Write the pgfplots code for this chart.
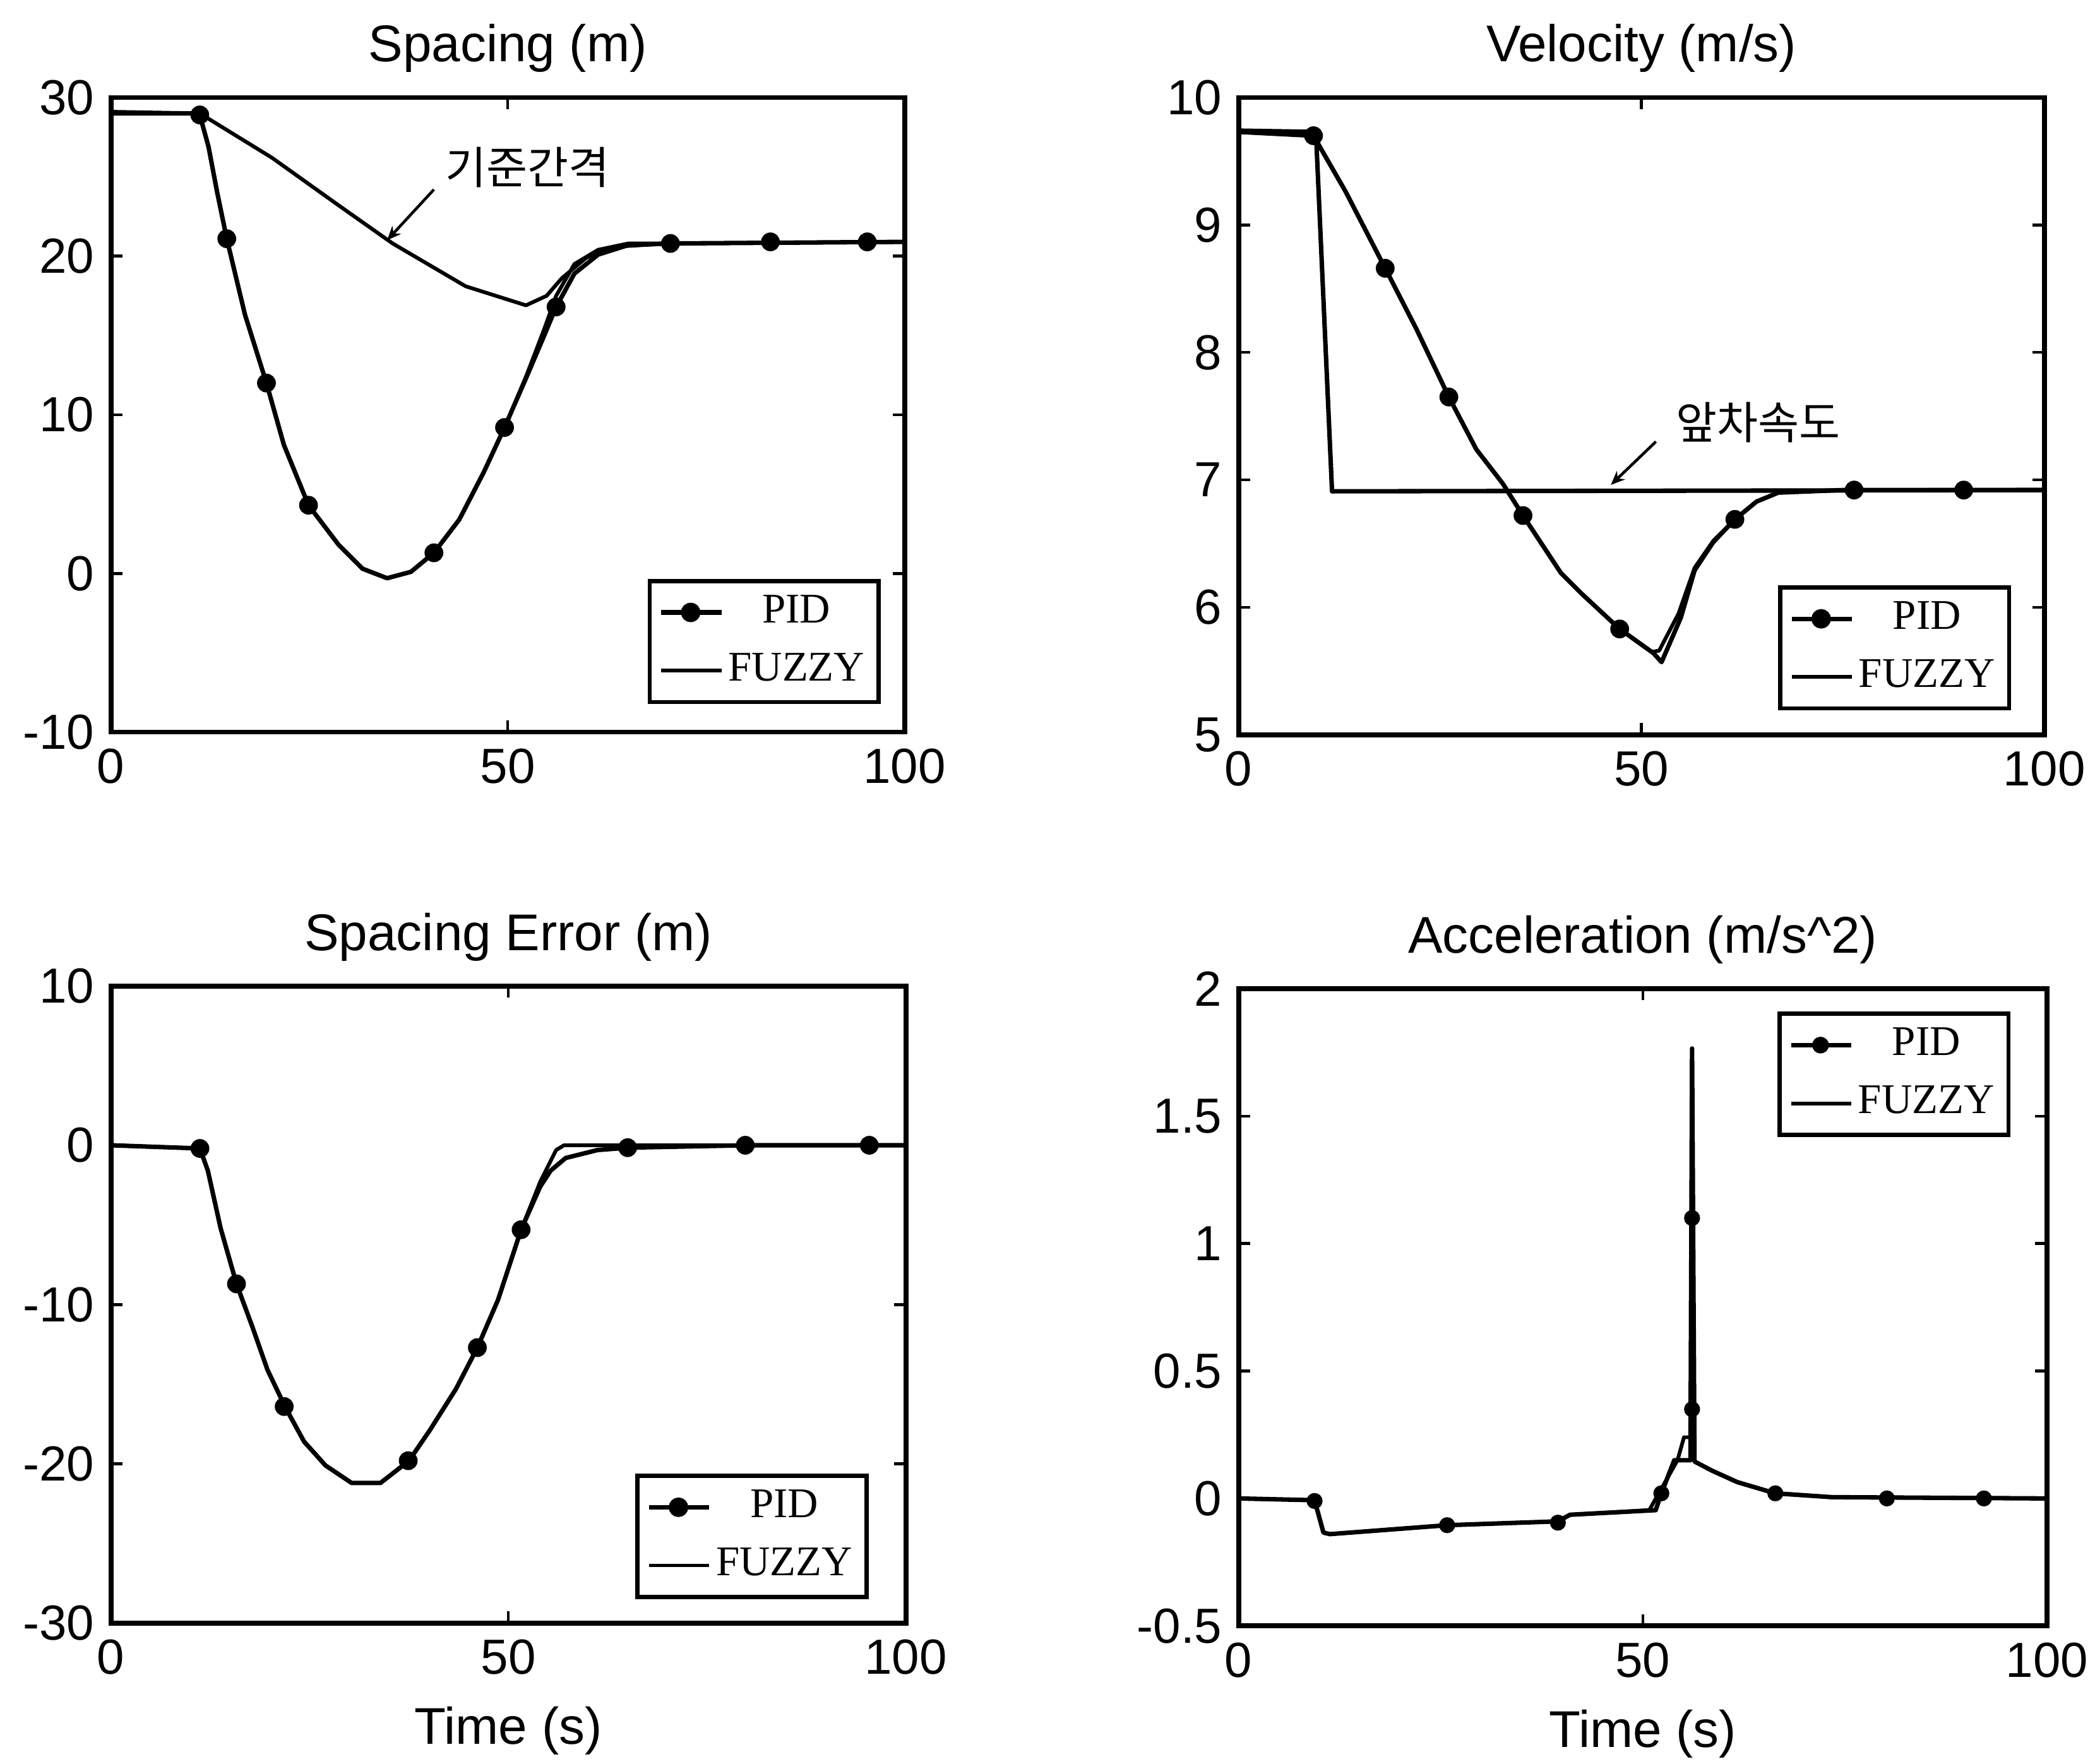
\documentclass[border=0pt]{standalone}
\usepackage{fontspec}
\setmainfont{Liberation Sans}
\newfontfamily\legfont{Liberation Serif}
\newfontfamily\cjk{Noto Sans CJK KR}
\usepackage{pgfplots}
\pgfplotsset{compat=1.18}
\usetikzlibrary{arrows.meta}

\pgfplotsset{
  panel/.style={
    scale only axis,
    anchor=south west,
    xmin=0, xmax=100,
    xtick={0,50,100},
    axis line style={line width=1.05pt},
    tick align=inside,
    major tick length=2.5pt,
    tick style={line width=0.6pt,black},
    /pgf/number format/assume math mode=true,
    tick label style={font=\fontsize{10.5}{12}\selectfont},
    title style={font=\fontsize{11}{13}\selectfont, yshift=-4.2pt},
    label style={font=\fontsize{11}{13}\selectfont},
    legend style={draw=black, line width=0.9pt, font=\legfont\fontsize{9}{10}\selectfont,
      cells={anchor=center}, nodes={inner sep=1pt}, inner xsep=2pt, inner ysep=2pt, row sep=3pt},
    legend image code/.code={
      \draw[mark repeat=2,mark phase=2,#1] plot coordinates {(0cm,0cm) (0.22cm,0cm) (0.45cm,0cm)};},
  },
  pidline/.style={black, line width=0.95pt, line join=round},
  fuzline/.style={black, line width=0.8pt, line join=round},
  pidmark/.style={only marks, mark=*, mark size=1.8pt, black},
  pidleg/.style={black, line width=0.95pt, mark=*, mark size=1.6pt},
}

\begin{document}
\begin{tikzpicture}

% ---------- Spacing ----------
\begin{axis}[panel, at={(0.83cm,7.72cm)}, width=5.94cm, height=4.75cm,
  title={Spacing (m)}, ymin=-10, ymax=30, ytick={-10,0,10,20,30},
  legend style={at={(0.97,0.044)}, anchor=south east}]
\addplot[pidline, forget plot] coordinates {
  (0,29.0) (10.5,29.0) (11.2,28.9) (12.3,26.9) (13.4,24.0) (14.6,21.1) (16.9,16.3)
  (19.6,12.0) (21.8,8.1) (24.9,4.3) (28.7,1.8) (31.7,0.3) (34.8,-0.3) (37.8,0.1)
  (40.7,1.3) (43.9,3.4) (47.0,6.4) (49.6,9.2) (52.3,12.3) (54.6,15.0) (56.1,16.8)
  (58.4,18.9) (61.4,20.1) (65.2,20.7) (70.5,20.8) (100,20.9)};
\addplot[fuzline, forget plot] coordinates {
  (0,29.0) (10.5,29.0) (11.2,28.9) (12.3,26.9) (13.4,24.0) (14.6,21.1) (16.9,16.3)
  (19.6,12.0) (21.8,8.1) (24.9,4.3) (28.7,1.8) (31.7,0.3) (34.8,-0.3) (37.8,0.1)
  (40.7,1.3) (43.9,3.4) (47.0,6.4) (49.6,9.2) (52.3,12.4) (54.6,15.4) (56.1,17.5)
  (58.4,19.5) (61.4,20.4) (65.2,20.8) (70.5,20.8) (100,20.9)};
\addplot[fuzline, forget plot] coordinates {
  (0,29.1) (11.2,29.0) (20.3,26.2) (28.7,23.2) (35.5,20.8) (44.7,18.1) (48.5,17.5)
  (52.3,16.9) (54.9,17.5) (56.8,18.6) (59.9,19.9) (63.7,20.6) (70.5,20.8) (100,20.9)};
\addplot[pidmark, forget plot] coordinates {
  (11.2,28.9) (14.6,21.1) (19.6,12.0) (24.9,4.3) (40.7,1.3) (49.6,9.2) (56.1,16.8)
  (70.5,20.8) (83.1,20.9) (95.3,20.9)};
\addlegendimage{pidleg}\addlegendentry{PID}
\addlegendimage{fuzline}\addlegendentry{FUZZY}
\node[font=\cjk\fontsize{9.5}{11}\selectfont] at (axis cs:52.5,25.6) {기준간격};
\draw[-{Stealth[length=3pt,width=2.5pt]}, line width=0.6pt] (axis cs:40.7,24.2) -- (axis cs:34.8,21.0);
\end{axis}

% ---------- Velocity ----------
\begin{axis}[panel, at={(9.27cm,7.70cm)}, width=6.03cm, height=4.77cm,
  title={Velocity (m/s)}, ymin=5, ymax=10, ytick={5,6,7,8,9,10},
  legend style={at={(0.959,0.038)}, anchor=south east}]
\addplot[pidline, forget plot] coordinates {
  (0,9.73) (9.3,9.70) (13.3,9.26) (18.2,8.66) (22.1,8.18) (26.1,7.65) (29.5,7.24)
  (32.8,6.97) (35.3,6.72) (40.0,6.27) (42.7,6.10) (47.3,5.83) (51.5,5.64) (52.5,5.57)
  (54.9,5.92) (56.6,6.29) (58.9,6.51) (61.6,6.69) (64.3,6.83) (67.0,6.90) (75,6.92) (100,6.92)};
\addplot[fuzline, forget plot] coordinates {
  (0,9.73) (9.3,9.70) (13.3,9.26) (18.2,8.66) (22.1,8.18) (26.1,7.65) (29.5,7.24)
  (32.8,6.97) (35.3,6.72) (40.0,6.27) (42.7,6.10) (47.3,5.83) (51.3,5.65) (52.2,5.66)
  (54.6,5.95) (56.6,6.31) (58.9,6.52) (61.6,6.69) (64.3,6.83) (67.0,6.90) (75,6.92) (100,6.92)};
\addplot[pidline, forget plot] coordinates {
  (0,9.74) (9.6,9.73) (11.6,6.91) (100,6.92)};
\addplot[pidmark, forget plot] coordinates {
  (9.3,9.70) (18.2,8.66) (26.1,7.65) (35.3,6.72) (47.3,5.83) (61.6,6.69) (76.4,6.92) (90.0,6.92)};
\addlegendimage{pidleg}\addlegendentry{PID}
\addlegendimage{fuzline}\addlegendentry{FUZZY}
\node[font=\cjk\fontsize{9.5}{11}\selectfont] at (axis cs:64.5,7.45) {앞차속도};
\draw[-{Stealth[length=3pt,width=2.5pt]}, line width=0.6pt] (axis cs:51.8,7.30) -- (axis cs:46.2,6.96);
\end{axis}

% ---------- Spacing Error ----------
\begin{axis}[panel, at={(0.83cm,1.05cm)}, width=5.95cm, height=4.77cm,
  title={Spacing Error (m)}, xlabel={Time (s)},
  ymin=-30, ymax=10, ytick={-30,-20,-10,0,10},
  legend style={at={(0.953,0.038)}, anchor=south east}]
\addplot[pidline, forget plot] coordinates {
  (0,0) (11.2,-0.2) (12.2,-1.6) (13.8,-5.2) (15.8,-8.7) (17.8,-11.4) (19.7,-14.1)
  (22.0,-16.5) (24.3,-18.6) (27.0,-20.1) (30.3,-21.2) (33.9,-21.2) (37.5,-19.8)
  (40.1,-17.9) (43.4,-15.3) (46.1,-12.7) (48.7,-9.7) (51.6,-5.3) (54.0,-2.6)
  (55.3,-1.6) (57.2,-0.8) (61.2,-0.3) (65.1,-0.15) (80,0) (100,0)};
\addplot[fuzline, forget plot] coordinates {
  (0,0) (11.2,-0.2) (12.2,-1.6) (13.8,-5.2) (15.8,-8.7) (17.8,-11.4) (19.7,-14.1)
  (22.0,-16.5) (24.3,-18.6) (27.0,-20.1) (30.3,-21.2) (33.9,-21.2) (37.5,-19.8)
  (40.1,-17.9) (43.4,-15.3) (46.1,-12.7) (48.7,-9.7) (51.6,-5.3) (54.0,-2.3)
  (56.0,-0.3) (57.0,0) (100,0)};
\addplot[pidmark, forget plot] coordinates {
  (11.2,-0.2) (15.8,-8.7) (21.8,-16.4) (37.4,-19.8) (46.1,-12.7) (51.6,-5.3)
  (65.0,-0.15) (79.8,0) (95.4,0)};
\addlegendimage{pidleg}\addlegendentry{PID}
\addlegendimage{fuzline}\addlegendentry{FUZZY}
\end{axis}

% ---------- Acceleration ----------
\begin{axis}[panel, at={(9.27cm,1.03cm)}, width=6.05cm, height=4.77cm,
  title={Acceleration (m/s\^{}2)}, xlabel={Time (s)},
  ymin=-0.5, ymax=2, ytick={-0.5,0,0.5,1,1.5,2},
  legend style={at={(0.955,0.964)}, anchor=north east}]
\addplot[pidline, forget plot] coordinates {
  (0,0) (9.4,-0.007) (10.5,-0.134) (11.3,-0.14) (25.8,-0.105) (39.5,-0.09) (41.0,-0.064)
  (51.6,-0.046) (52.3,0.02) (53.9,0.15) (55.9,0.15) (56.1,1.765) (56.4,0.145)
  (58.5,0.11) (61.7,0.064) (66.4,0.02) (73.4,0.005) (100,0)};
\addplot[fuzline, forget plot] coordinates {
  (0,0) (9.4,-0.007) (10.5,-0.134) (11.3,-0.14) (25.8,-0.105) (39.5,-0.09) (41.0,-0.064)
  (50.8,-0.046) (54.3,0.15) (55.1,0.24) (56.25,0.24) (56.4,0.145)
  (58.5,0.11) (61.7,0.064) (66.4,0.02) (73.4,0.005) (100,0)};
\addplot[pidmark, mark size=1.5pt, forget plot] coordinates {
  (9.4,-0.01) (25.8,-0.105) (39.5,-0.095) (52.3,0.02) (56.1,0.35) (56.1,1.10)
  (66.4,0.02) (80.2,0) (92.2,0)};
\addlegendimage{pidleg, mark size=1.3pt}\addlegendentry{PID}
\addlegendimage{fuzline}\addlegendentry{FUZZY}
\end{axis}

\pgfresetboundingbox
\path (0,0) rectangle (15.68cm,13.20cm);
\end{tikzpicture}
\end{document}
